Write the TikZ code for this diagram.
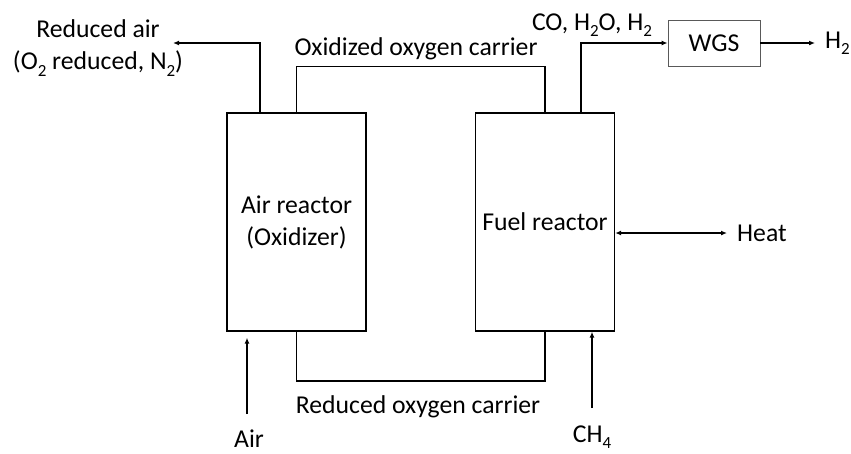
\documentclass[tikz,border=0pt]{standalone}
\usepackage{fontspec}
\setmainfont{Carlito}
\usetikzlibrary{arrows.meta, positioning}
\newcommand{\dn}[1]{\raisebox{-0.26em}{\fontsize{17}{17}\selectfont #1}}
\tikzset{
	every node/.style={font=\fontsize{25.7}{32}\selectfont},
	reactor/.style={rectangle, draw=black, line width=1.4pt, minimum width=139pt, minimum height=218pt, align=center, inner sep=2pt},
	unit/.style={rectangle, draw=black!65, line width=0.9pt, minimum width=92pt, minimum height=46pt, inner sep=0pt},
	txt/.style={inner sep=0pt, align=center},
	pipe/.style={line width=1.6pt, draw=black},
	arrow/.style={-{Latex[length=6pt, width=5pt]}, line width=1.6pt, draw=black},
	twoway/.style={{Latex[length=6pt, width=5pt]}-{Latex[length=6pt, width=5pt]}, line width=1.6pt, draw=black},
}
\begin{document}
\begin{tikzpicture}[x=1pt, y=-1pt]
		\useasboundingbox (0,0) rectangle (851,453);
		\node[reactor] (air) at (296.5,222) {Air reactor\\(Oxidizer)};
		\node[reactor] (fuel) at (545,222) {Fuel reactor};
		\node[unit] (wgs) at (714,43) {WGS};
		\node[txt] (redair) at (98,48) {Reduced air\\(O\dn{2} reduced, N\dn{2})};
		\node[txt, anchor=base] (oxlbl) at (416,55) {Oxidized oxygen carrier};
		\node[txt, anchor=base] (syngas) at (592,30) {CO, H\dn{2}O, H\dn{2}};
		\node[txt, anchor=base west] (htwo) at (825,48) {H\dn{2}};
		\node[txt, anchor=base west] (heat) at (737,241) {Heat};
		\node[txt, anchor=base] (redlbl) at (418,413) {Reduced oxygen carrier};
		\node[txt, anchor=base] (airin) at (249,447) {Air};
		\node[txt, anchor=base] (ch4) at (592,442) {CH\dn{4}};
		\coordinate (redairend) at (173,43);
		\coordinate (htwoend) at (815,43);
		\coordinate (heatend) at (727,233);
		\coordinate (airstart) at (247,414);
		\coordinate (ch4start) at (592,408);
		\draw[arrow] ([xshift=-36.5pt]air.north) |- (redairend);
		\draw[pipe] (air.north) -- ++(0,-46) -| (fuel.north);
		\draw[arrow] ([xshift=36pt]fuel.north) |- (wgs.west);
		\draw[arrow] (wgs.east) -- (htwoend);
		\draw[twoway] ([yshift=-11pt]fuel.east) -- (heatend);
		\draw[pipe] (air.south) -- ++(0,49) -| (fuel.south);
		\draw[arrow, shorten >=6pt] (airstart) -- (airstart |- air.south);
		\draw[arrow] (ch4start) -- (ch4start |- fuel.south);
	\end{tikzpicture}
\end{document}
